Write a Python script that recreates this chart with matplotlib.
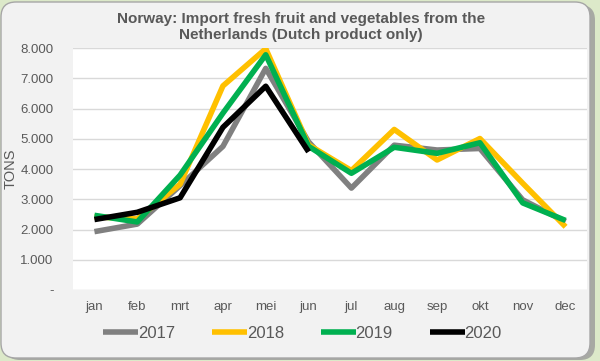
import numpy as np
import matplotlib
matplotlib.use("Agg")
import matplotlib.pyplot as plt
from matplotlib.patches import FancyBboxPatch
from matplotlib.ticker import FuncFormatter

# Chart data (tons per month)
months = ["jan", "feb", "mrt", "apr", "mei", "jun", "jul", "aug", "sep", "okt", "nov", "dec"]
y2017 = [1930, 2180, 3450, 4750, 7330, 4900, 3370, 4790, 4630, 4680, 2980, 2260]
y2018 = [2420, 2350, 3500, 6750, 7980, 4800, 3950, 5310, 4300, 5010, 3530, 2090]
y2019 = [2470, 2250, 3800, 5850, 7780, 4750, 3860, 4720, 4520, 4870, 2880, 2300]
y2020 = [2330, 2570, 3050, 5380, 6740, 4570]

series = [("2017", y2017, "#808080"), ("2018", y2018, "#ffc000"),
          ("2019", y2019, "#00b050"), ("2020", y2020, "#000000")]
text_col = "#595959"
plt.rcParams['font.family'] = ['Liberation Sans', 'DejaVu Sans']

fig = plt.figure(figsize=(6, 3.61), dpi=100)
fig.patch.set_facecolor("#dce9c9")
# rounded frame with a soft shadow on the right/bottom (inch units)
shadow = FancyBboxPatch((0.05, 0.01), 5.9, 3.55, boxstyle="round,pad=0,rounding_size=0.15",
                        transform=fig.dpi_scale_trans, facecolor="#9a9a9a", edgecolor="none",
                        alpha=0.8, zorder=-6)
frame = FancyBboxPatch((0.01, 0.03), 5.89, 3.56, boxstyle="round,pad=0,rounding_size=0.15",
                       transform=fig.dpi_scale_trans, facecolor="#f2f2f2", edgecolor="#a6a6a6",
                       linewidth=1.0, zorder=-5)
fig.patches.extend([shadow, frame])

ax = fig.add_axes([0.1217, 0.1967, 0.8566, 0.67])
ax.set_zorder(2)
ax.set_facecolor("white")
x = np.arange(len(months))
for name, vals, col in series:
    ax.plot(x[:len(vals)], vals, color=col, lw=4, label=name, solid_capstyle="butt")

ax.set_xlim(-0.5, len(months) - 0.5)
ax.set_ylim(0, 8000)
ax.set_yticks(np.arange(0, 8001, 1000))
ax.yaxis.set_major_formatter(FuncFormatter(lambda v, p: "-" if v == 0 else f"{int(v):,}".replace(",", ".")))
ax.set_xticks(x)
ax.set_xticklabels(months)
ax.tick_params(length=0, labelsize=9.5, colors=text_col, pad=8)
ax.tick_params(axis="y", pad=14)
ax.grid(axis="y", color="#d9d9d9", lw=1)
ax.set_axisbelow(True)
for s in ax.spines.values():
    s.set_visible(False)
ax.set_ylabel("TONS", color=text_col, fontsize=10.5)
ax.yaxis.set_label_coords(-0.107, 0.5)

fig.text(0.502, 0.968, "Norway: Import fresh fruit and vegetables from the\nNetherlands (Dutch product only)",
         ha="center", va="top", fontsize=11, fontweight="bold", color=text_col, linespacing=1.25)

fig.legend(loc="center", bbox_to_anchor=(0.504, 0.077), ncol=4, frameon=False,
           fontsize=12, handlelength=2.1, handletextpad=0.0, columnspacing=2.2,
           labelcolor=text_col)

fig.savefig("out.png", dpi=100, facecolor=fig.get_facecolor())
